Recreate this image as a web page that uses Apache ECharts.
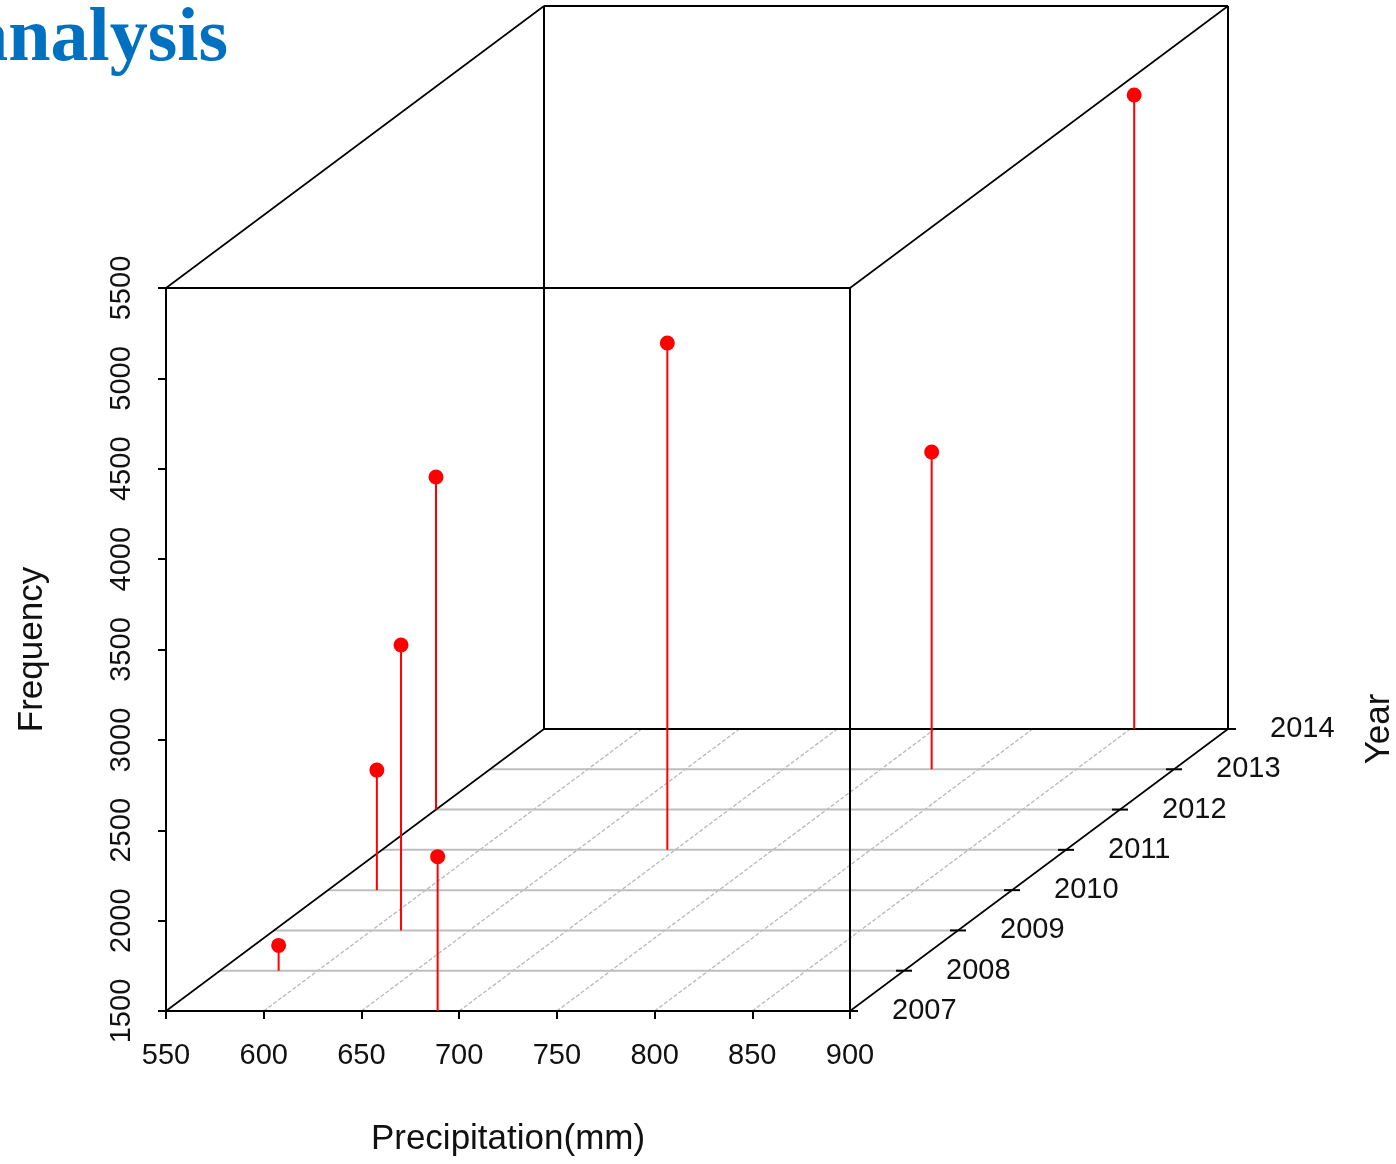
<!DOCTYPE html>
<html>
<head>
<meta charset="utf-8">
<script src="https://cdn.jsdelivr.net/npm/echarts@6/dist/echarts.min.js"></script>
<style>
  html, body { margin: 0; background: #fff; }
  #chart { width: 1396px; height: 1164px; }
</style>
</head>
<body>
<div id="chart"></div>
<script>
// values
const years = [2007, 2008, 2009, 2010, 2011, 2012, 2013, 2014];
const precipitation = [689, 580, 615, 575, 696, 550, 776, 852];
const frequency = [2354, 1640, 3079, 2164, 4304, 3340, 3255, 5008];

// axis ticks
const precipTicks = [550, 600, 650, 700, 750, 800, 850, 900];
const freqTicks = [1500, 2000, 2500, 3000, 3500, 4000, 4500, 5000, 5500];

// oblique depth of the year axis, as a share of the front face
const DEPTH_X = 378 / 684, DEPTH_Y = 282 / 723;
const SANS = '"Liberation Sans", Arial, sans-serif';
const INK = '#111';

const pMin = precipTicks[0], pMax = precipTicks[precipTicks.length - 1];
const fMin = freqTicks[0], fMax = freqTicks[freqTicks.length - 1];
const yMin = years[0], yMax = years[years.length - 1];

function depth(cs, year) {
  const f = (year - yMin) / (yMax - yMin);
  return [f * cs.width * DEPTH_X, -f * cs.height * DEPTH_Y];
}
const shift = (p, d) => [p[0] + d[0], p[1] + d[1]];
const seg = (a, b, style) => ({ type: 'line', shape: { x1: a[0], y1: a[1], x2: b[0], y2: b[1] }, style });

const gridSolid = { stroke: '#bebebe', lineWidth: 2 };
const gridDash = { stroke: '#b8b8b8', lineWidth: 1.3, lineDash: [4, 2] };
const boxLine = { stroke: '#000', lineWidth: 2 };
const edgeLine = { stroke: '#000', lineWidth: 1.6 };

function renderFrame(params, api) {
  const cs = params.coordSys;
  const back = depth(cs, yMax);
  const fl = api.coord([pMin, fMin]), fr = api.coord([pMax, fMin]);
  const tl = api.coord([pMin, fMax]), tr = api.coord([pMax, fMax]);
  const ch = [];
  // floor grid
  precipTicks.slice(1, -1).forEach(x => {
    const a = api.coord([x, fMin]);
    ch.push(seg(a, shift(a, back), gridDash));
  });
  years.slice(1, -1).forEach(y => {
    const d = depth(cs, y);
    ch.push(seg(shift(fl, d), shift(fr, d), gridSolid));
  });
  // back face
  const bl = shift(fl, back), br = shift(fr, back), btl = shift(tl, back), btr = shift(tr, back);
  ch.push(seg(bl, br, boxLine), seg(btl, btr, boxLine), seg(bl, btl, boxLine), seg(br, btr, boxLine));
  // depth edges
  ch.push(seg(fl, bl, edgeLine), seg(fr, br, edgeLine), seg(tl, btl, edgeLine), seg(tr, btr, edgeLine));
  // front face
  ch.push(seg(fl, fr, boxLine), seg(tl, tr, boxLine), seg(fl, tl, boxLine), seg(fr, tr, boxLine));
  // year axis
  years.forEach(y => {
    const p = shift(fr, depth(cs, y));
    ch.push(seg([p[0] - 8, p[1]], [p[0] + 8, p[1]], { stroke: '#000', lineWidth: 2 }));
    ch.push({ type: 'text', x: p[0] + 42, y: p[1],
      style: { text: String(y), font: '29px ' + SANS, fill: INK, align: 'left', verticalAlign: 'middle' } });
  });
  ch.push({ type: 'text', x: br[0] + 151, y: br[1], rotation: Math.PI / 2,
    style: { text: 'Year', font: '35px ' + SANS, fill: INK, align: 'center', verticalAlign: 'middle' } });
  return { type: 'group', children: ch };
}

function renderPoint(params, api) {
  const cs = params.coordSys;
  const d = depth(cs, api.value(1));
  const top = shift(api.coord([api.value(0), api.value(2)]), d);
  const base = shift(api.coord([api.value(0), fMin]), d);
  return { type: 'group', children: [
    seg(base, top, { stroke: '#ff0000', lineWidth: 2 }),
    { type: 'circle', shape: { cx: top[0], cy: top[1], r: 7.5 }, style: { fill: '#ff0000' } }
  ] };
}

const chart = echarts.init(document.getElementById('chart'), null, { renderer: 'canvas' });
chart.setOption({
  animation: false,
  backgroundColor: '#fff',
  grid: { left: 166, top: 288, width: 684, height: 723, outerBoundsMode: 'none' },
  xAxis: {
    type: 'value', min: pMin, max: pMax, interval: 50,
    name: 'Precipitation(mm)', nameLocation: 'middle', nameGap: 111,
    nameTextStyle: { fontSize: 35, fontFamily: SANS, color: INK },
    axisLine: { lineStyle: { color: '#000', width: 2 } },
    axisTick: { length: 8, lineStyle: { color: '#000', width: 2 } },
    axisLabel: { fontSize: 29, fontFamily: SANS, color: INK, margin: 30, formatter: v => String(v) },
    splitLine: { show: false }
  },
  yAxis: {
    type: 'value', min: fMin, max: fMax, interval: 500,
    name: 'Frequency', nameLocation: 'middle', nameGap: 116,
    nameTextStyle: { fontSize: 35, fontFamily: SANS, color: INK },
    axisLine: { lineStyle: { color: '#000', width: 2 } },
    axisTick: { length: 8, lineStyle: { color: '#000', width: 2 } },
    axisLabel: { fontSize: 29, fontFamily: SANS, color: INK, margin: 30, rotate: 90, formatter: v => String(v) },
    splitLine: { show: false }
  },
  graphic: [{
    type: 'text', x: 228, y: 40,
    style: { text: 'analysis', font: 'bold 76px "Liberation Serif", "Times New Roman", serif',
      fill: '#0070c0', align: 'right', verticalAlign: 'middle' }
  }],
  series: [
    { type: 'custom', name: 'frame', renderItem: renderFrame, data: [[pMin, fMin]], silent: true, clip: false, z: 1 },
    { type: 'custom', name: 'points', renderItem: renderPoint, clip: false, z: 3,
      encode: { x: 0, y: 2 },
      data: years.map((y, i) => [precipitation[i], y, frequency[i]]) }
  ]
});
</script>
</body>
</html>
